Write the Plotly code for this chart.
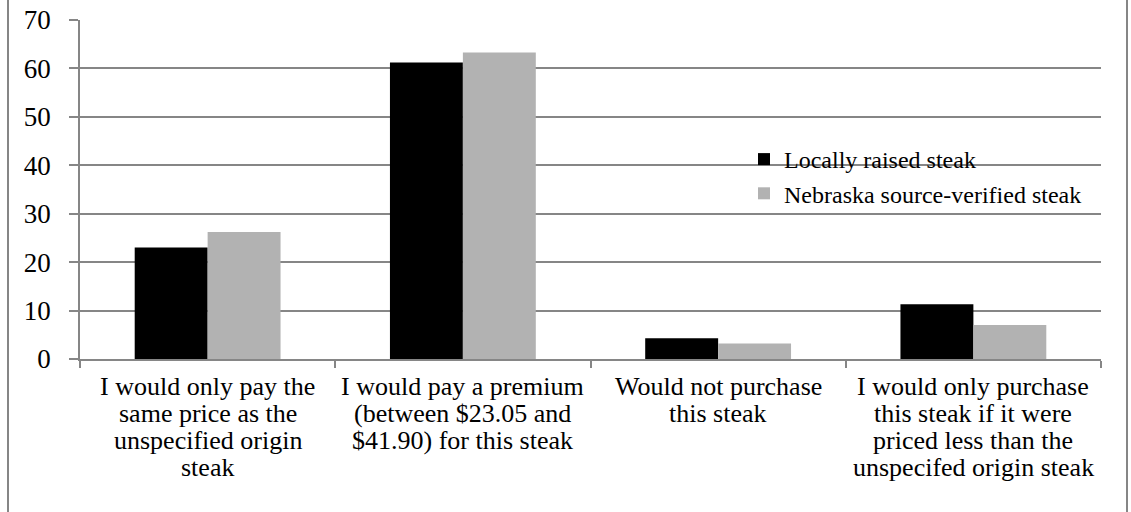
import plotly.graph_objects as go

categories = [
    "I would only pay the<br>same price as the<br>unspecified origin<br>steak",
    "I would pay a premium<br>(between $23.05 and<br>$41.90) for this steak",
    "Would not purchase<br>this steak",
    "I would only purchase<br>this steak if it were<br>priced less than the<br>unspecifed origin steak",
]
locally_raised = [23.0, 61.2, 4.3, 11.3]
nebraska_verified = [26.2, 63.3, 3.2, 7.0]
y_ticks = [0, 10, 20, 30, 40, 50, 60, 70]

FONT = "Liberation Serif, Times New Roman, serif"
GRID = "#868686"

fig = go.Figure()
fig.add_trace(go.Bar(x=categories, y=locally_raised, name="Locally raised steak",
                     marker=dict(color="#000000", line=dict(width=0))))
fig.add_trace(go.Bar(x=categories, y=nebraska_verified, name="Nebraska source-verified steak",
                     marker=dict(color="#b2b2b2", line=dict(width=0))))

W, H = 1131, 512
L, R, T, B = 80, 30, 20, 153
pw = W - L - R
ph = H - T - B

# category labels, one annotation per line so the line spacing matches
annotations = []
for cat in categories:
    for j, line in enumerate(cat.split("<br>")):
        annotations.append(dict(
            x=cat, xref="x", y=0, yref="y", yshift=-(27 + 27 * j),
            text=line, showarrow=False, xanchor="center", yanchor="middle",
            font=dict(size=26, family=FONT, color="black"),
        ))

fig.update_layout(
    width=W, height=H,
    margin=dict(l=L, r=R, t=T, b=B, pad=0, autoexpand=False),
    paper_bgcolor="white", plot_bgcolor="white",
    barmode="group", bargap=0.4286, bargroupgap=0,
    font=dict(family=FONT, color="black"),
    legend=dict(x=(744 - L) / pw, y=1 - (137 - T) / ph,
                xanchor="left", yanchor="top",
                font=dict(size=24, family=FONT), bgcolor="rgba(0,0,0,0)",
                tracegroupgap=0, itemwidth=30),
    xaxis=dict(showline=True, linecolor=GRID, linewidth=1.5,
               ticks="outside", ticklen=7, tickcolor=GRID, tickwidth=1.5,
               tickson="boundaries", showgrid=False, showticklabels=False),
    yaxis=dict(range=[0, 70], tickvals=y_ticks, showline=True, linecolor=GRID, linewidth=1.5,
               ticks="outside", ticklen=9, tickcolor=GRID, tickwidth=1.5,
               showgrid=True, gridcolor=GRID, gridwidth=1.5, zeroline=False,
               tickfont=dict(size=27, family=FONT, color="black"),
               ticklabelstandoff=13),
    annotations=annotations,
    shapes=[
        dict(type="line", xref="paper", yref="paper",
             x0=(8 - L) / pw, x1=(8 - L) / pw, y0=-1, y1=2,
             line=dict(color=GRID, width=2)),
        dict(type="line", xref="paper", yref="paper",
             x0=(1127 - L) / pw, x1=(1127 - L) / pw, y0=-1, y1=2,
             line=dict(color=GRID, width=2)),
    ],
)

fig.write_html("out.html")
